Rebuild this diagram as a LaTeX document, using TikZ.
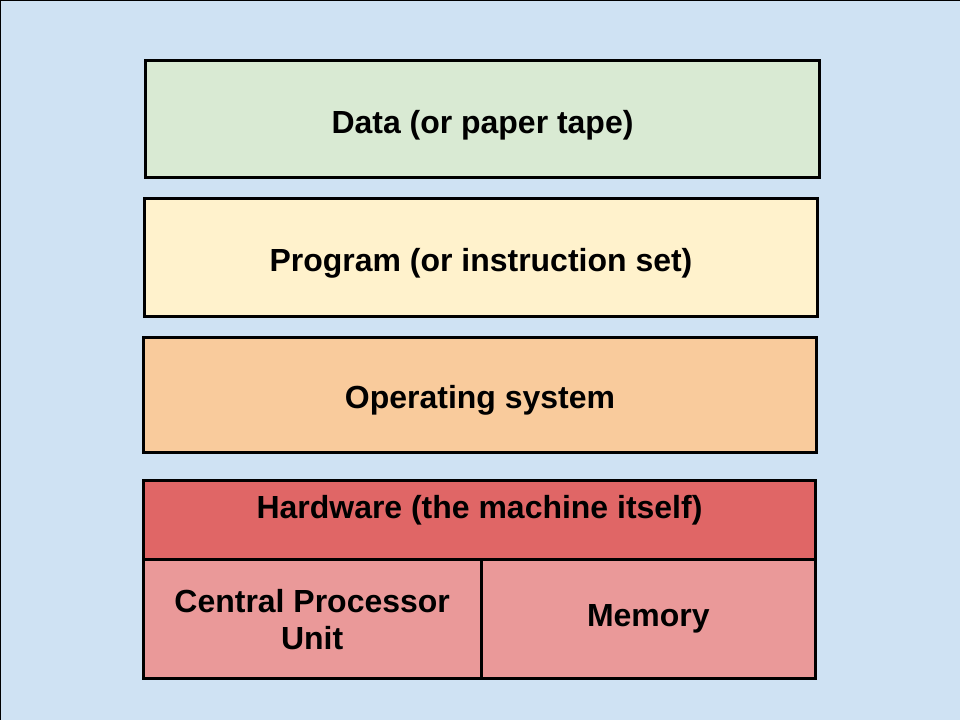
\documentclass[tikz,border=0pt]{standalone}
\usepackage{fontspec}
\setmainfont{Liberation Sans}
\usepackage{tikz}

\definecolor{slidebg}{HTML}{CFE2F3}
\definecolor{datafill}{HTML}{D9EAD3}
\definecolor{progfill}{HTML}{FFF2CC}
\definecolor{osfill}{HTML}{F9CB9C}
\definecolor{hwfill}{HTML}{E06666}
\definecolor{partfill}{HTML}{EA9999}

\begin{document}
\begin{tikzpicture}[x=0.75pt, y=-0.75pt,
        layer/.style={draw, rectangle, line width=2.25pt, inner sep=0pt,
            font=\fontsize{24}{28}\selectfont\bfseries, align=center}]
        \fill[slidebg] (0,0) rectangle (960,720);
        \draw[line width=0.75pt] (0,720) -- (0,0) -- (960,0);
        \useasboundingbox (0,0) rectangle (960,720);

        \node (data) [layer, fill=datafill, minimum width=675*0.75pt, minimum height=117*0.75pt,
            text height=22.2pt, text depth=0pt] at (482.5,118.5) {Data (or paper tape)};
        \node (program) [layer, fill=progfill, minimum width=674*0.75pt, minimum height=118*0.75pt,
            text height=21pt, text depth=0pt] at (481,257) {Program (or instruction set)};
        \node (os) [layer, fill=osfill, minimum width=674*0.75pt, minimum height=115*0.75pt,
            text height=20.25pt, text depth=0pt] at (480,394.5) {Operating system};
        \node (hardware) [layer, fill=hwfill, minimum width=673*0.75pt, minimum height=80*0.75pt,
            text height=0pt, text depth=1.5pt] at (479.5,520) {Hardware (the machine itself)};
        \node (cpu) [layer, fill=partfill, minimum width=338*0.75pt, minimum height=119*0.75pt] at (312,619.5) {Central Processor\\Unit};
        \node (memory) [layer, fill=partfill, minimum width=335*0.75pt, minimum height=119*0.75pt,
            text height=10.8pt, text depth=0pt] at (648.5,619.5) {Memory};
    \end{tikzpicture}
\end{document}
